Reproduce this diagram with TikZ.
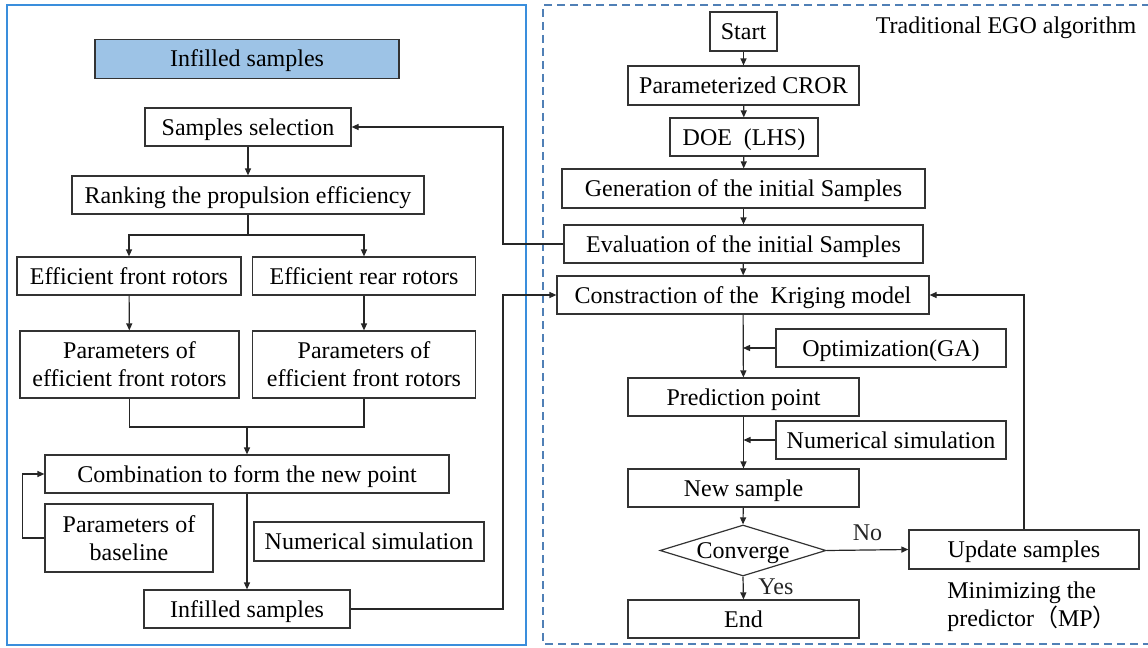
\documentclass[tikz,border=0pt]{standalone}
\usepackage{fontspec}
\setmainfont{Liberation Serif}
\newfontfamily\cjk{Noto Sans CJK SC}
\usetikzlibrary{calc, shapes.geometric, arrows.meta}

\definecolor{frameblue}{RGB}{58,142,220}
\definecolor{dashblue}{RGB}{80,128,182}
\definecolor{hdrfill}{RGB}{157,195,230}

\tikzset{
    boxbase/.style={draw=black!80, line width=0.6pt, inner sep=1pt, align=center,
        minimum height=19pt},
    box/.style={boxbase, text height=9pt, text depth=1pt},
    boxtwo/.style={boxbase, minimum height=33.5pt},
    arr/.style={line width=0.6pt, black!85, -{Triangle[length=3.5pt,width=3pt]}},
    lnk/.style={line width=0.6pt, black!85},
}

\begin{document}
\begin{tikzpicture}[x=0.5pt, y=-0.5pt, font=\fontsize{12}{14}\selectfont]
    \useasboundingbox (0,0) rectangle (1148,648);

    % frames
    \draw[frameblue, line width=1pt] (7,5) rectangle (526,645);
    \draw[dashblue, line width=0.75pt, dash pattern=on 4pt off 2.5pt]
        (1150,5) -- (543,5) -- (543,644) -- (1150,644);

    % left part
    \node[box, fill=hdrfill, minimum width=152pt, minimum height=19.5pt] (hdr) at (247,59) {Infilled samples};
    \node[box, minimum width=103pt] (sel) at (248,127) {Samples selection};
    \node[box, minimum width=176pt] (rank) at (248,195) {Ranking the propulsion efficiency};
    \node[box, minimum width=112pt] (front) at (129,276) {Efficient front rotors};
    \node[box, minimum width=111.5pt] (rear) at (364,276) {Efficient rear rotors};
    \node[boxtwo, minimum width=109.5pt] (pfront) at (129.5,364.5)
        {Parameters of\\efficient front rotors};
    \node[boxtwo, minimum width=111.5pt] (prear) at (364,364.5)
        {Parameters of\\efficient front rotors};
    \node[box, minimum width=202pt] (comb) at (247,474) {Combination to form the new point};
    \node[boxtwo, minimum width=84pt, minimum height=34pt] (base) at (129,538)
        {Parameters of\\baseline};
    \node[box, minimum width=115pt, minimum height=19.5pt] (numL) at (369,541.5) {Numerical simulation};
    \node[box, minimum width=103pt] (infl) at (247,609) {Infilled samples};

    \coordinate (br) at (248,235);
    \coordinate (mg) at (247,427);
    \coordinate (jx) at (503,0);

    \draw[arr] (sel) -- (rank);
    \draw[lnk] (rank.south) -- (br);
    \draw[arr] (br) -| (front.north);
    \draw[arr] (br) -| (rear.north);
    \draw[arr] (front) -- (pfront);
    \draw[arr] (rear) -- (prear);
    \draw[lnk] (pfront.south) |- (mg) -| (prear.south);
    \draw[arr] (mg) -- (comb.north);
    \draw[arr] (base.west) -- ++(-22,0) |- (comb.west);
    \draw[arr] (comb.south) -- (infl.north);

    % right part
    \node[box, minimum width=33.5pt, minimum height=19.5pt] (start) at (743.5,31.5) {Start};
    \node[box, minimum width=115.5pt, minimum height=19.5pt] (cror) at (743.5,85.5) {Parameterized CROR};
    \node[box, minimum width=74pt] (doe) at (744,137) {DOE~~(LHS)};
    \node[box, minimum width=181.5pt, minimum height=19.5pt] (gen) at (743.5,188.5)
        {Generation of the initial Samples};
    \node[box, minimum width=179.5pt] (eval) at (743.5,244) {Evaluation of the initial Samples};
    \node[box, minimum width=186pt] (krig) at (743,295) {Constraction of the~ Kriging model};
    \node[box, minimum width=115pt] (opt) at (891,348) {Optimization(GA)};
    \node[box, minimum width=115.5pt] (pred) at (743.5,397) {Prediction point};
    \node[box, minimum width=115pt] (numR) at (891,440) {Numerical simulation};
    \node[box, minimum width=115.5pt] (news) at (743.5,488) {New sample};
    \node[box, diamond, aspect=3.25, inner sep=0pt, minimum width=83pt, minimum height=25.5pt]
        (conv) at (743,550.5) {Converge};
    \node[box, minimum width=115.5pt] (fin) at (743.5,619) {End};
    \node[box, minimum width=115pt, minimum height=19.5pt] (upd) at (1024,549.5) {Update samples};

    \node (ego) at (1006,28) {Traditional EGO algorithm};
    \node[align=left, anchor=west, inner sep=0pt] (mp) at (947,607)
        {Minimizing the\\predictor{\cjk （}MP{\cjk ）}};

    \draw[arr] (start) -- (cror);
    \draw[arr] (cror) -- (doe);
    \draw[arr] (doe) -- (gen);
    \draw[arr] (gen) -- (eval);
    \draw[arr] (eval) -- (krig);
    \draw[arr] (krig) -- (pred);
    \draw[arr] (opt.west) -- (opt.west -| krig.south);
    \draw[arr] (pred) -- (news);
    \draw[arr] (numR.west) -- (numR.west -| pred.south);
    \draw[arr] (news) -- (conv.north);
    \draw[arr] (conv.south) -- node[right, pos=0.45, xshift=4pt] (yes) {Yes} (fin.north);
    \draw[arr] (conv.east) -- node[above, pos=0.5, yshift=1pt] (no) {No} (upd.west);
    \draw[arr] (upd.north) |- (krig.east);

    % links between the two parts
    \draw[arr] (eval.west) -- (eval.west -| jx) |- (sel.east);
    \draw[arr] (infl.east) -| (jx |- krig.west) -- (krig.west);
\end{tikzpicture}
\end{document}
